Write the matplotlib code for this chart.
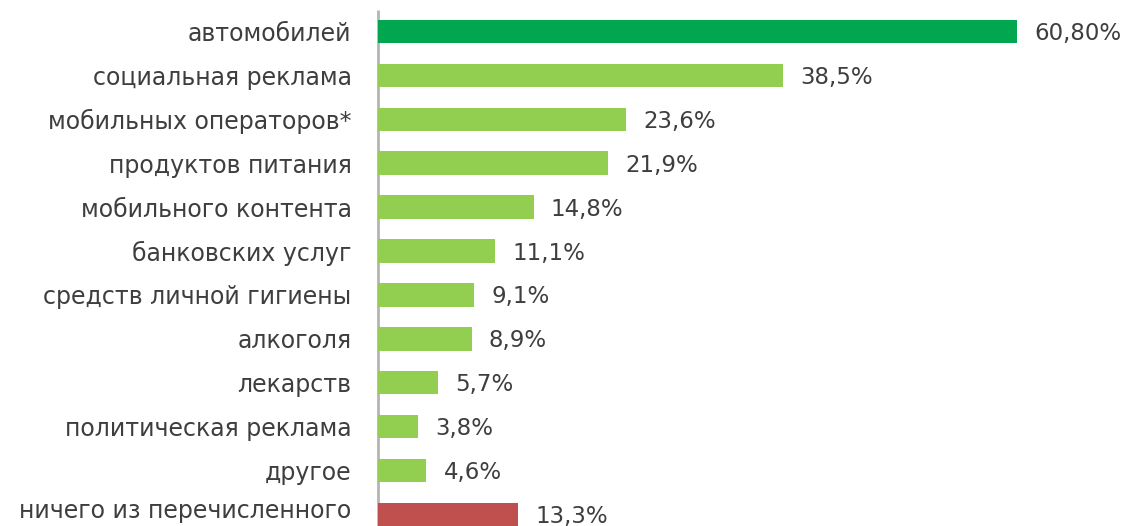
import matplotlib
matplotlib.use("Agg")
import matplotlib.pyplot as plt
import matplotlib.transforms as mtransforms

categories = [
    "автомобилей",
    "социальная реклама",
    "мобильных операторов*",
    "продуктов питания",
    "мобильного контента",
    "банковских услуг",
    "средств личной гигиены",
    "алкоголя",
    "лекарств",
    "политическая реклама",
    "другое",
    "ничего из перечисленного",
]
values = [60.8, 38.5, 23.6, 21.9, 14.8, 11.1, 9.1, 8.9, 5.7, 3.8, 4.6, 13.3]
value_labels = ["60,80%", "38,5%", "23,6%", "21,9%", "14,8%", "11,1%",
                "9,1%", "8,9%", "5,7%", "3,8%", "4,6%", "13,3%"]

DARK_GREEN = "#00a650"
LIGHT_GREEN = "#92cf50"
RED = "#c0504d"
colors = [DARK_GREEN] + [LIGHT_GREEN] * 10 + [RED]
TEXT = "#3e3e3e"

plt.rcParams["font.family"] = ["DejaVu Sans"]

W, H = 1130, 526
fig = plt.figure(figsize=(W / 100, H / 100), dpi=100)
left = 378 / W
ax = fig.add_axes([left, 0.0, 1.0 - left, 1.0])

ypos = list(range(len(categories)))
ax.barh(ypos, values, height=0.535, color=colors, edgecolor="none")

px_per_unit = 10.51
ax.set_xlim(0, (W - 378) / px_per_unit)
row = 43.9
ax.set_ylim((H - 31.5) / row, -31.5 / row)

for y, v, lab in zip(ypos, values, value_labels):
    ax.annotate(lab, xy=(v, y), xytext=(12.5, -1.5), textcoords="offset points",
                va="center", ha="left", fontsize=16.5, color=TEXT)

ax.set_yticks(ypos)
ax.set_yticklabels(categories, fontsize=17, color=TEXT)
ax.tick_params(axis="y", length=0, pad=19)
ax.set_xticks([])

# lift the bottom label so its descenders stay inside the canvas
lift = mtransforms.ScaledTranslation(0, 4 / 72, fig.dpi_scale_trans)
last = ax.get_yticklabels()[-1]
last.set_transform(last.get_transform() + lift)

for s in ax.spines.values():
    s.set_visible(False)
ax.plot([0, 0], [(10 - 31.5) / row, (H - 31.5) / row], color="#b4b4b4",
        lw=2, solid_capstyle="butt", clip_on=False, zorder=0)

fig.savefig("out.png", dpi=100, facecolor="white")
